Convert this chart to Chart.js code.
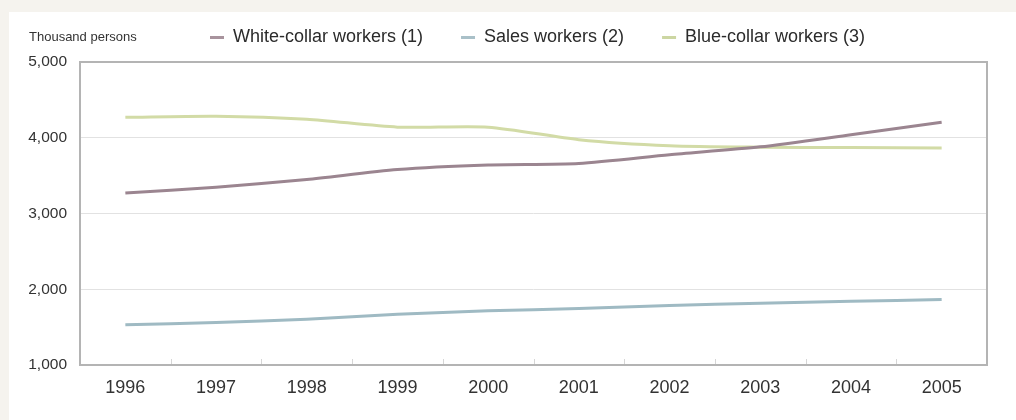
<!DOCTYPE html>
<html>
<head>
<meta charset="utf-8">
<script src="https://cdn.jsdelivr.net/npm/chart.js@4"></script>
<style>
  html, body { margin: 0; padding: 0; }
  body { width: 1016px; height: 420px; background: #f5f3ee; position: relative; overflow: hidden; }
  #panel { position: absolute; left: 9px; top: 12px; width: 1007px; height: 408px; background: #ffffff; }
  #wrap { position: absolute; left: 0; top: 0; width: 1016px; height: 420px; }
</style>
</head>
<body>
<div id="panel"></div>
<div id="wrap"><canvas id="employChart"></canvas></div>
<script>
// values (thousand persons)
const years = ['1996', '1997', '1998', '1999', '2000', '2001', '2002', '2003', '2004', '2005'];
const whiteCollar = [3270, 3345, 3450, 3580, 3640, 3660, 3775, 3880, 4040, 4205];
const sales = [1530, 1560, 1605, 1670, 1715, 1745, 1785, 1815, 1840, 1865];
const blueCollar = [4270, 4285, 4245, 4140, 4140, 3975, 3895, 3875, 3870, 3865];
const yTicks = [1000, 2000, 3000, 4000, 5000];
const unitLabel = 'Thousand persons';

const FONT = '"Liberation Sans", Arial, Helvetica, sans-serif';

// frame, little x ticks, unit label and legend
const decorPlugin = {
    id: 'decor',
    beforeDatasetsDraw(chart) {
        const ctx = chart.ctx;
        const a = chart.chartArea;
        const x = chart.scales.x;
        ctx.save();
        ctx.strokeStyle = '#d6d6d6';
        ctx.lineWidth = 1;
        for (let i = 1; i < years.length; i++) {
            const px = Math.round((x.getPixelForValue(i - 1) + x.getPixelForValue(i)) / 2) + 0.5;
            ctx.beginPath();
            ctx.moveTo(px, a.bottom);
            ctx.lineTo(px, a.bottom - 6);
            ctx.stroke();
        }
        ctx.strokeStyle = '#b4b4b4';
        ctx.lineWidth = 2;
        ctx.strokeRect(a.left, a.top, a.right - a.left, a.bottom - a.top);
        ctx.restore();
    },
    afterDraw(chart) {
        const ctx = chart.ctx;
        ctx.save();
        ctx.textBaseline = 'middle';
        ctx.fillStyle = '#333333';
        ctx.font = '13px ' + FONT;
        ctx.fillText(unitLabel, 29, 37);
        ctx.font = '18px ' + FONT;
        let lx = 210;
        chart.data.datasets.forEach(ds => {
            ctx.fillStyle = ds.legendColor;
            ctx.fillRect(lx, 36, 14, 3);
            ctx.fillStyle = '#2b2b2b';
            ctx.fillText(ds.label, lx + 23, 37);
            lx += 23 + ctx.measureText(ds.label).width + 38;
        });
        ctx.restore();
    }
};

const ctx = document.getElementById('employChart').getContext('2d');
const employChart = new Chart(ctx, {
    type: 'line',
    data: {
        labels: years,
        datasets: [{
            label: 'White-collar workers (1)',
            data: whiteCollar,
            borderColor: '#9b8590',
            legendColor: '#a8939d',
            borderWidth: 3,
            pointRadius: 0,
            tension: 0.25
        }, {
            label: 'Sales workers (2)',
            data: sales,
            borderColor: '#9fbac3',
            legendColor: '#a9c0c8',
            borderWidth: 3,
            pointRadius: 0,
            tension: 0.25
        }, {
            label: 'Blue-collar workers (3)',
            data: blueCollar,
            borderColor: '#d2dba6',
            legendColor: '#ccd6a2',
            borderWidth: 3,
            pointRadius: 0,
            tension: 0.25
        }]
    },
    options: {
        responsive: true,
        maintainAspectRatio: false,
        animation: false,
        layout: { padding: { left: 0, right: 29, top: 62, bottom: 0 } },
        plugins: {
            legend: { display: false },
            tooltip: { enabled: false }
        },
        scales: {
            x: {
                offset: true,
                grid: { display: false, drawTicks: false },
                border: { display: false },
                ticks: {
                    color: '#333333',
                    padding: 12,
                    font: { family: FONT, size: 18 },
                    maxRotation: 0
                },
                afterFit(scale) { scale.height = 55; }
            },
            y: {
                min: 1000,
                max: 5000,
                grid: {
                    color: ctx => (ctx.tick && (ctx.tick.value === 1000 || ctx.tick.value === 5000)) ? 'rgba(0,0,0,0)' : '#e2e2e2',
                    lineWidth: 1,
                    drawTicks: false
                },
                border: { display: false },
                afterBuildTicks(scale) { scale.ticks = yTicks.map(v => ({ value: v })); },
                ticks: {
                    color: '#333333',
                    padding: 13,
                    font: { family: FONT, size: 15.5 },
                    callback: v => v.toLocaleString('en-US')
                },
                afterFit(scale) { scale.width = 80; }
            }
        }
    },
    plugins: [decorPlugin]
});
</script>
</body>
</html>
